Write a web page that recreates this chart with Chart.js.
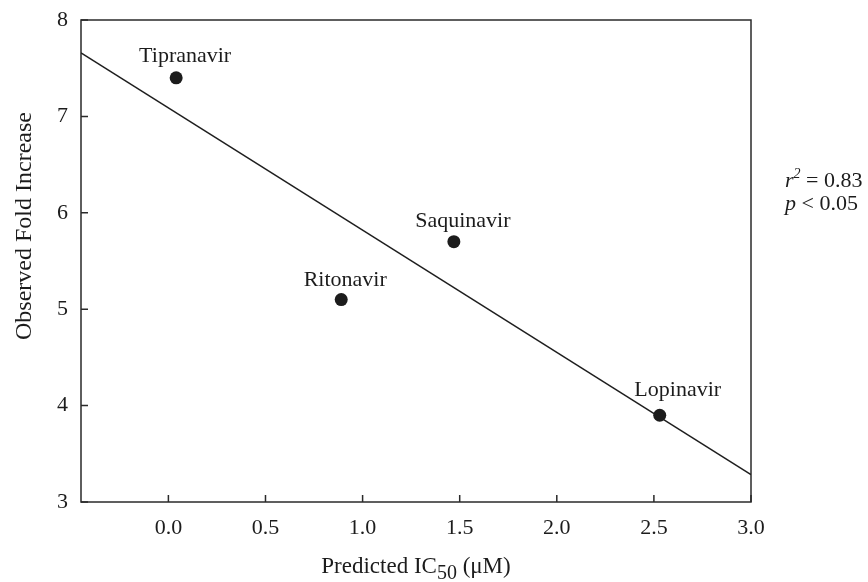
<!DOCTYPE html>
<html>
<head>
<meta charset="utf-8">
<script src="https://cdn.jsdelivr.net/npm/chart.js"></script>
<style>
  body { margin: 0; background: #fff; }
</style>
</head>
<body>
<canvas id="graficoIC50" width="868" height="582"></canvas>
<script>
const drugs = ['Tipranavir', 'Ritonavir', 'Saquinavir', 'Lopinavir'];
const predictedIC50 = [0.04, 0.89, 1.47, 2.53];
const observedFold = [7.4, 5.1, 5.7, 3.9];
const xTicks = [0.0, 0.5, 1.0, 1.5, 2.0, 2.5, 3.0];
const yTicks = [3, 4, 5, 6, 7, 8];
const xMin = -0.45, xMax = 3.0;

// where each drug name sits relative to its point (px)
const labelNudge = [[9, -16], [4, -14], [9, -15], [18, -19]];

const serif = '"Liberation Serif", "Times New Roman", serif';
const ink = '#1c1c1c';

// least squares fit through the four drugs
const n = predictedIC50.length;
const mx = predictedIC50.reduce((a, b) => a + b, 0) / n;
const my = observedFold.reduce((a, b) => a + b, 0) / n;
let sxx = 0, sxy = 0, syy = 0;
for (let i = 0; i < n; i++) {
  const dx = predictedIC50[i] - mx, dy = observedFold[i] - my;
  sxx += dx * dx; sxy += dx * dy; syy += dy * dy;
}
const slope = sxy / sxx;
const intercept = my - slope * mx;
const r2 = (sxy * sxy) / (sxx * syy);

const fitLine = [xMin, xMax].map(x => ({ x: x, y: intercept + slope * x }));
const points = predictedIC50.map((x, i) => ({ x: x, y: observedFold[i] }));

const frame = {
  id: 'frame',
  beforeDatasetsDraw(chart) {
    const { ctx, chartArea: a, scales } = chart;
    ctx.save();
    ctx.strokeStyle = '#2a2a2a';
    ctx.lineWidth = 1.5;
    ctx.strokeRect(a.left, a.top, a.right - a.left, a.bottom - a.top);
    // inward tick marks
    ctx.beginPath();
    xTicks.forEach(v => {
      const px = scales.x.getPixelForValue(v);
      ctx.moveTo(px, a.bottom);
      ctx.lineTo(px, a.bottom - 7);
    });
    yTicks.forEach(v => {
      const py = scales.y.getPixelForValue(v);
      ctx.moveTo(a.left, py);
      ctx.lineTo(a.left + 7, py);
    });
    ctx.stroke();
    ctx.restore();
  },
  afterDraw(chart) {
    const { ctx, chartArea: a, scales } = chart;
    ctx.save();
    ctx.fillStyle = ink;
    ctx.font = '22px ' + serif;
    ctx.textAlign = 'center';
    ctx.textBaseline = 'alphabetic';

    // drug names
    drugs.forEach((name, i) => {
      const px = scales.x.getPixelForValue(predictedIC50[i]);
      const py = scales.y.getPixelForValue(observedFold[i]);
      ctx.fillText(name, px + labelNudge[i][0], py + labelNudge[i][1]);
    });

    // x axis title with subscript
    const main = 'Predicted IC';
    const sub = '50';
    const tail = ' (\u03bcM)';
    ctx.font = '23px ' + serif;
    const wMain = ctx.measureText(main).width;
    const wTail = ctx.measureText(tail).width;
    ctx.font = '20px ' + serif;
    const wSub = ctx.measureText(sub).width;
    const total = wMain + wSub + wTail;
    let x0 = (a.left + a.right) / 2 - total / 2;
    const base = 573;
    ctx.textAlign = 'left';
    ctx.font = '23px ' + serif;
    ctx.fillText(main, x0, base);
    ctx.font = '20px ' + serif;
    ctx.fillText(sub, x0 + wMain, base + 6);
    ctx.font = '23px ' + serif;
    ctx.fillText(tail, x0 + wMain + wSub, base);

    // y axis title
    ctx.save();
    ctx.translate(31, 226);
    ctx.rotate(-Math.PI / 2);
    ctx.textAlign = 'center';
    ctx.font = '24px ' + serif;
    ctx.fillText('Observed Fold Increase', 0, 0);
    ctx.restore();

    // fit statistics
    let tx = 785;
    ctx.textAlign = 'left';
    ctx.font = 'italic 22px ' + serif;
    ctx.fillText('r', tx, 187);
    tx += ctx.measureText('r').width;
    ctx.font = 'italic 14px ' + serif;
    ctx.fillText('2', tx, 178);
    tx += ctx.measureText('2').width;
    ctx.font = '22px ' + serif;
    ctx.fillText(' = ' + r2.toFixed(2), tx, 187);

    tx = 785;
    ctx.font = 'italic 22px ' + serif;
    ctx.fillText('p', tx, 210);
    tx += ctx.measureText('p').width;
    ctx.font = '22px ' + serif;
    ctx.fillText(' < 0.05', tx, 210);
    ctx.restore();
  }
};

new Chart(document.getElementById('graficoIC50'), {
  type: 'scatter',
  data: {
    datasets: [
      {
        label: 'Drugs',
        data: points,
        backgroundColor: ink,
        borderWidth: 0,
        pointRadius: 6.5,
        order: 0
      },
      {
        type: 'line',
        label: 'Fit',
        data: fitLine,
        borderColor: '#1e1e1e',
        borderWidth: 1.5,
        pointRadius: 0,
        fill: false,
        order: 1
      }
    ]
  },
  options: {
    responsive: false,
    animation: false,
    layout: { padding: { top: 20, right: 117, left: 0, bottom: 0 } },
    plugins: {
      legend: { display: false },
      tooltip: { enabled: false }
    },
    scales: {
      x: {
        type: 'linear',
        min: xMin,
        max: xMax,
        afterBuildTicks: s => { s.ticks = xTicks.map(v => ({ value: v })); },
        afterFit: s => { s.height = 80; },
        grid: { display: false, drawTicks: false },
        border: { display: false },
        ticks: {
          color: ink,
          font: { family: serif, size: 22 },
          padding: 13,
          maxRotation: 0,
          autoSkip: false,
          callback: v => v.toFixed(1)
        }
      },
      y: {
        min: 3,
        max: 8,
        afterBuildTicks: s => { s.ticks = yTicks.map(v => ({ value: v })); },
        afterFit: s => {
          s.width = 81;
          // keep the plot top pinned to the layout padding
          s.paddingTop = 0;
          s.paddingBottom = 0;
        },
        grid: { display: false, drawTicks: false },
        border: { display: false },
        ticks: {
          color: ink,
          font: { family: serif, size: 22 },
          padding: 13,
          autoSkip: false,
          callback: v => v
        }
      }
    }
  },
  plugins: [frame]
});
</script>
</body>
</html>
